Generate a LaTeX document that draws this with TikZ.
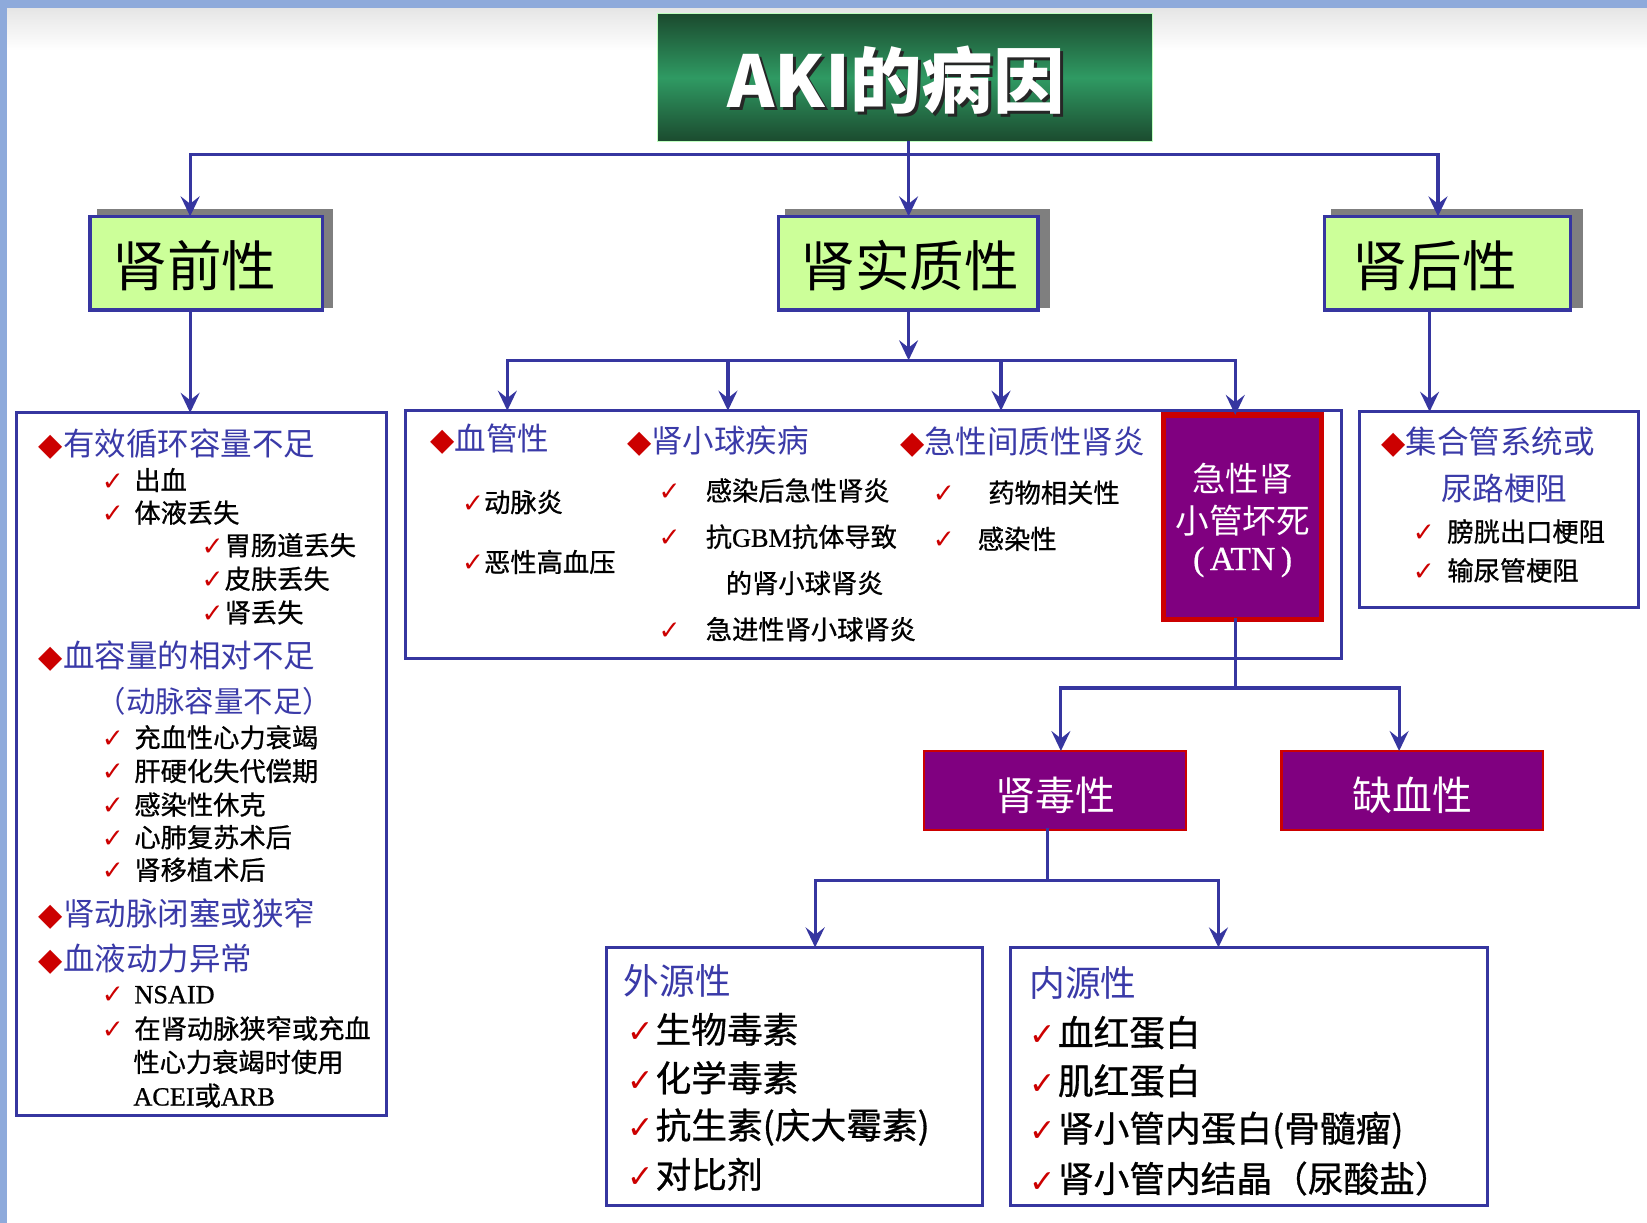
\documentclass[tikz,border=0pt]{standalone}
\usepackage{fontspec}
\usepackage{graphicx}
\setmainfont{Noto Sans CJK SC}
\newfontfamily\itemfont{Noto Sans CJK SC}[FakeBold=0.8]
\newfontfamily\symfont{DejaVu Sans}
\newfontfamily\serifL{Liberation Serif}[FakeBold=0.8]
\usetikzlibrary{arrows.meta}
\definecolor{lineblue}{HTML}{3636A0}
\definecolor{hblue}{HTML}{3A3AA8}
\definecolor{mred}{HTML}{CC0000}
\definecolor{lgreen}{HTML}{CCFF99}
\definecolor{purp}{HTML}{800080}
\definecolor{stripe}{HTML}{8EAADB}
\definecolor{dgreen}{HTML}{1B4A2E}
\definecolor{mgreen}{HTML}{2F9A63}
\definecolor{shadowgray}{HTML}{7F7F7F}
\newcommand\fsz[1]{\fontsize{#1}{#1}\selectfont}
\newcommand\ck{{\color{mred}\symfont ✓}}
\newcommand\bck{{\color{mred}\fsz{30}\symfont ✓}}
\newcommand\dm{{\color{mred}\symfont ◆}}
\tikzset{
  conn/.style={draw=lineblue, line width=3pt, line cap=rect},
  arr/.style={draw=lineblue, line width=3pt, -{Stealth[length=19pt,width=18pt,inset=7pt]}},
  frame/.style={draw=lineblue, line width=3pt, fill=white, inner sep=0pt, outer sep=0pt},
  lvtwo/.style={draw=lineblue, line width=3.5pt, fill=lgreen, minimum height=89pt, inner sep=0pt, outer sep=0pt},
  pbox/.style={draw=mred, line width=2pt, fill=purp, inner sep=0pt, outer sep=0pt, minimum width=249pt, minimum height=75pt},
  shadowbox/.style={fill=shadowgray},
  lbl/.style={inner sep=0pt, outer sep=0pt},
  hd/.style={lbl, anchor=west, text=hblue, font=\fsz{30}},
  it/.style={lbl, anchor=west, text=black, font=\fsz{25}\itemfont},
  big/.style={lbl, anchor=west, text=black, font=\fsz{34}\itemfont},
  bighd/.style={lbl, anchor=west, text=hblue, font=\fsz{34}},
  lvtext/.style={lbl, text=black, font=\fsz{52}},
  ptext/.style={lbl, text=white, font=\fsz{38}},
  atntext/.style={lbl, text=white, font=\fsz{32}},
}
\begin{document}
\begin{tikzpicture}[x=1pt,y=-1pt]
\useasboundingbox (0,0) rectangle (1568,1164);
\fill[white] (0,0) rectangle (1568,1164);
\shade[top color=black!10, bottom color=white] (0,8) rectangle (1568,48);
\fill[stripe] (0,0) rectangle (1568,8);
\fill[stripe] (0,0) rectangle (7,1164);

% title
\node[draw=green!25!white, line width=1pt, top color=dgreen, bottom color=dgreen, middle color=mgreen,
      minimum width=471pt, minimum height=122pt, inner sep=0pt] (title) at (861.5,74) {};
\node[lbl, text=black!85, font=\fsz{68}\bfseries] (titleshadow) at (856,79) {AKI的病因};
\node[lbl, text=white, font=\fsz{68}\bfseries] (titletext) at (853,76) {AKI的病因};

% level two boxes with shadows
\fill[shadowbox] (92,199) rectangle (317,293);
\fill[shadowbox] (747,199) rectangle (1000,293);
\fill[shadowbox] (1267,199) rectangle (1507,293);
\node[lvtwo, minimum width=221pt] (pre) at (196.5,250.5) {};
\node[lvtwo, minimum width=247pt] (par) at (864.5,250.5) {};
\node[lvtwo, minimum width=234pt] (post) at (1378,250.5) {};
\node[lvtext] (pretext) at (185,253) {肾前性};
\node[lvtext] (partext) at (866,253) {肾实质性};
\node[lvtext] (posttext) at (1366,253) {肾后性};

% list boxes
\node[frame, minimum width=352pt, minimum height=669pt] (preL) at (192,727.5) {};
\node[frame, minimum width=891pt, minimum height=236pt] (parL) at (831.5,509) {};
\node[frame, minimum width=266pt, minimum height=186pt] (postL) at (1427,485) {};
\node[draw=mred, line width=5pt, fill=purp, inner sep=0pt, outer sep=0pt,
      minimum width=150pt, minimum height=195pt] (atn) at (1183,492.5) {};
\node[pbox] (tox) at (1004.5,752.5) {};
\node[pbox] (isch) at (1344.5,752.5) {};
\node[frame, minimum width=358pt, minimum height=246pt] (exo) at (756,1025) {};
\node[frame, minimum width=454pt, minimum height=246pt] (endo) at (1189,1025) {};

% connectors
\coordinate (h1) at (865,147);
\coordinate (h1L) at (181,147);
\coordinate (h1R) at (1369,147);
\draw[conn] (h1 |- title.south) -- (h1);
\draw[conn] (h1L) -- (h1R);
\draw[arr] (h1L) -- (h1L |- pre.north);
\draw[arr] (h1) -- (h1 |- par.north);
\draw[arr] (h1R) -- (h1R |- post.north);
\draw[arr] (h1L |- pre.south) -- (h1L |- preL.north);
\coordinate (h2) at (865,343);
\coordinate (h2a) at (483,343);
\coordinate (h2b) at (693,343);
\coordinate (h2c) at (953,343);
\coordinate (h2d) at (1176,343);
\draw[arr] (h1 |- par.south) -- (h2);
\draw[conn] (h2a) -- (h2d);
\draw[arr] (h2a) -- (h2a |- parL.north);
\draw[arr] (h2b) -- (h2b |- parL.north);
\draw[arr] (h2c) -- (h2c |- parL.north);
\draw[arr] (h2d) -- (h2d |- atn.north);
\coordinate (pv) at (1361,300);
\draw[arr] (pv |- post.south) -- (pv |- postL.north);
\coordinate (h3) at (1176,655);
\coordinate (h3a) at (1010,655);
\coordinate (h3b) at (1332,655);
\draw[conn] (h3 |- atn.south) -- (h3);
\draw[conn] (h3a) -- (h3b);
\draw[arr] (h3a) -- (h3a |- tox.north);
\draw[arr] (h3b) -- (h3b |- isch.north);
\coordinate (h4) at (997,838);
\coordinate (h4a) at (776,838);
\coordinate (h4b) at (1160,838);
\draw[conn] (h4 |- tox.south) -- (h4);
\draw[conn] (h4a) -- (h4b);
\draw[arr] (h4a) -- (h4a |- exo.north);
\draw[arr] (h4b) -- (h4b |- endo.north);

% left list
\node[hd] (l1) at (37,423) {\dm 有效循环容量不足};
\node[it] (l2) at (97,457) {\ck\hspace{10pt}出血};
\node[it] (l3) at (97,488) {\ck\hspace{10pt}体液丢失};
\node[it] (l4) at (192,519) {\ck\hspace{1pt}胃肠道丢失};
\node[it] (l5) at (192,551) {\ck\hspace{1pt}皮肤丢失};
\node[it] (l6) at (192,583) {\ck\hspace{1pt}肾丢失};
\node[hd] (l7) at (37,625) {\dm 血容量的相对不足};
\node[hd, font=\fsz{28}] (l8) at (92,668) {（动脉容量不足）};
\node[it] (l9) at (97,702) {\ck\hspace{10pt}充血性心力衰竭};
\node[it] (l10) at (97,734) {\ck\hspace{10pt}肝硬化失代偿期};
\node[it] (l11) at (97,766) {\ck\hspace{10pt}感染性休克};
\node[it] (l12) at (97,797) {\ck\hspace{10pt}心肺复苏术后};
\node[it] (l13) at (97,828) {\ck\hspace{10pt}肾移植术后};
\node[hd] (l14) at (37,870) {\dm 肾动脉闭塞或狭窄};
\node[hd] (l15) at (37,913) {\dm 血液动力异常};
\node[it] (l16) at (97,947) {\ck\hspace{10pt}{\serifL NSAID}};
\node[it] (l17) at (97,979) {\ck\hspace{10pt}在肾动脉狭窄或充血};
\node[it] (l18) at (127,1011) {性心力衰竭时使用};
\node[it] (l19) at (127,1043) {{\serifL ACEI}或{\serifL ARB}};

% middle list
\node[hd] (m1) at (410,418) {\dm 血管性};
\node[it] (m2) at (440,478) {\ck 动脉炎};
\node[it] (m3) at (440,535) {\ck 恶性高血压};
\node[hd] (m4) at (597,420) {\dm 肾小球疾病};
\node[it] (m5) at (627,467) {\ck\hspace{24pt}感染后急性肾炎};
\node[it] (m6) at (627,511) {\ck\hspace{24pt}抗{\serifL GBM}抗体导致};
\node[it] (m7) at (691,555) {的肾小球肾炎};
\node[it] (m8) at (627,599) {\ck\hspace{24pt}急进性肾小球肾炎};
\node[hd] (m9) at (857,421) {\dm 急性间质性肾炎};
\node[it] (m10) at (888,469) {\ck\hspace{32pt}药物相关性};
\node[it] (m11) at (888,513) {\ck\hspace{22pt}感染性};

% ATN
\node[atntext] (atn1) at (1183,456) {急性肾};
\node[atntext] (atn2) at (1183,496) {小管坏死};
\node[atntext] (atn3) at (1183,535) {{\serifL (\,ATN\,)}};

% right list
\node[hd] (r1) at (1315,421) {\dm 集合管系统或};
\node[hd] (r2) at (1372,465) {尿路梗阻};
\node[it] (r3) at (1345,506) {\ck\hspace{12pt}膀胱出口梗阻};
\node[it] (r4) at (1345,543) {\ck\hspace{12pt}输尿管梗阻};

% purple boxes text
\node[ptext] (toxtext) at (1005,757) {肾毒性};
\node[ptext] (ischtext) at (1345,757) {缺血性};

% exogenous
\node[bighd] (e1) at (594,934) {外源性};
\node[big] (e2) at (597,980) {\bck\hspace{2pt}生物毒素};
\node[big] (e3) at (597,1026) {\bck\hspace{2pt}化学毒素};
\node[big] (e4) at (597,1073) {\bck\hspace{2pt}抗生素(庆大霉素)};
\node[big] (e5) at (597,1118) {\bck\hspace{2pt}对比剂};

% endogenous
\node[bighd] (n1) at (980,936) {内源性};
\node[big] (n2) at (980,983) {\bck\hspace{2pt}血红蛋白};
\node[big] (n3) at (980,1029) {\bck\hspace{2pt}肌红蛋白};
\node[big] (n4) at (980,1076) {\bck\hspace{2pt}肾小管内蛋白(骨髓瘤)};
\node[big] (n5) at (980,1122) {\bck\hspace{2pt}肾小管内结晶（尿酸盐）};
\end{tikzpicture}
\end{document}
